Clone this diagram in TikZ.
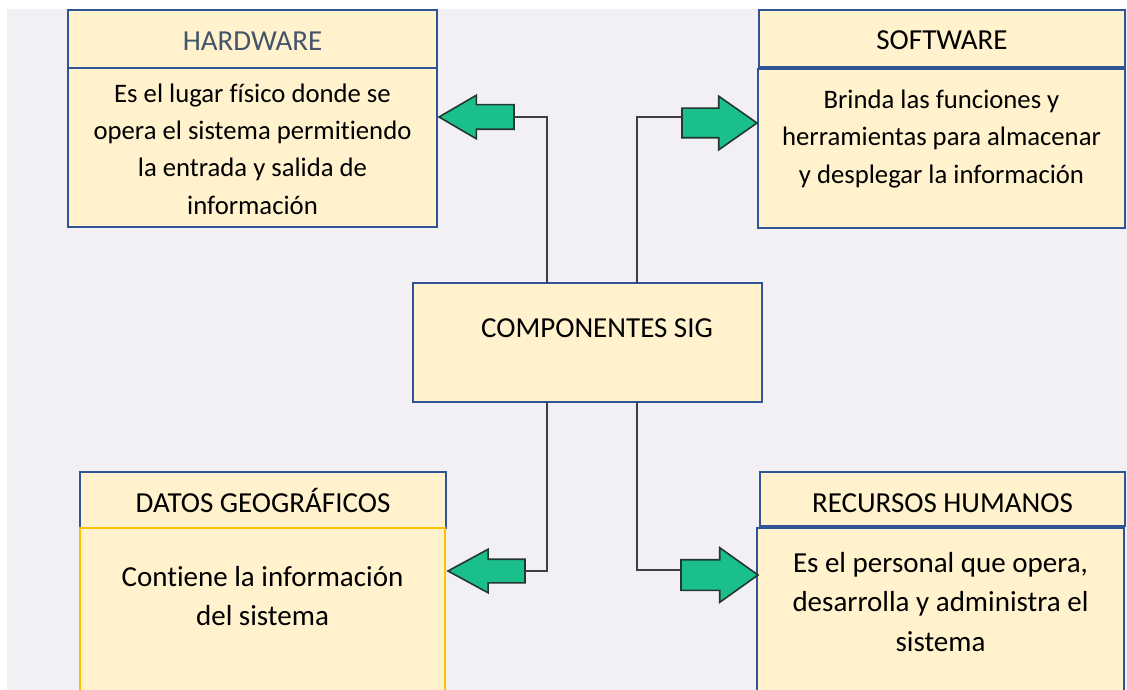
\documentclass[tikz,border=0pt]{standalone}
\usepackage{fontspec}
\setmainfont{Carlito}[Ligatures={NoCommon}]
\usetikzlibrary{shapes.arrows,calc}
\definecolor{bgc}{RGB}{243,240,245}
\definecolor{boxfill}{RGB}{255,242,204}
\definecolor{boxline}{RGB}{47,85,151}
\definecolor{goldline}{RGB}{255,192,0}
\definecolor{arrowfill}{RGB}{26,191,140}
\definecolor{arrowline}{RGB}{35,55,45}
\definecolor{connc}{RGB}{64,64,64}
\definecolor{hwtext}{RGB}{68,84,106}
\tikzset{
  box/.style={draw=boxline, fill=boxfill, line width=2.5pt, rectangle, anchor=north west, inner sep=0pt, outer sep=0pt, font=\fontsize{29}{39}\selectfont},
  bigtxt/.style={align=center, inner sep=0pt, font=\fontsize{29}{39.5}\selectfont},
  smalltxt/.style={align=center, inner sep=0pt, font=\fontsize{26.7}{37.3}\selectfont},
  conn/.style={draw=connc, line width=2pt},
  garrow/.style={single arrow, draw=arrowline, fill=arrowfill, line width=1.6pt, inner xsep=0pt, outer sep=0pt, anchor=tip},
}
\begin{document}
\begin{tikzpicture}[x=1pt, y=-1pt]
\clip (0,0) rectangle (1127,690);
\fill[white] (0,0) rectangle (1127,690);
\fill[bgc] (7,9) rectangle (1127,690);

% HARDWARE
\node[box, minimum width=369pt, minimum height=58pt, text=hwtext, text height=22.7pt, text depth=0pt] (hwh) at (68,10) {HARDWARE};
\node[box, minimum width=369pt, minimum height=159pt] (hwb) at (68,68) {};
\node[smalltxt] (hwt) at (252.5,149) {Es el lugar físico donde se\\opera el sistema permitiendo\\la entrada y salida de\\información};

% SOFTWARE
\node[box, minimum width=366pt, minimum height=57pt, text height=22.7pt, text depth=0pt] (swh) at (759,10) {SOFTWARE};
\node[box, minimum width=367pt, minimum height=159pt] (swb) at (758,69) {};
\node[smalltxt] (swt) at (941.5,139) {Brinda las funciones y\\herramientas para almacenar\\y desplegar la información};

% CENTER
\node[box, minimum width=349pt, minimum height=119pt] (comp) at (413,283) {};
\node[bigtxt] (compt) at (597,328) {COMPONENTES SIG};

% DATOS
\node[box, minimum width=366pt, minimum height=56pt] (dgh) at (80,472) {DATOS GEOGRÁFICOS};
\node[box, draw=goldline, minimum width=365pt, minimum height=180pt] (dgb) at (80,528) {};
\node[bigtxt] (dgt) at (262.5,596) {Contiene la información\\del sistema};

% RECURSOS
\node[box, minimum width=365pt, minimum height=54pt, text height=26.7pt, text depth=0pt] (rhh) at (760,472) {RECURSOS HUMANOS};
\node[box, minimum width=367pt, minimum height=180pt] (rhb) at (757,528) {};
\node[bigtxt] (rht) at (940.5,602) {Es el personal que opera,\\desarrolla y administra el\\sistema};

% arrows
\node[garrow, shape border rotate=180, minimum height=75pt, inner ysep=11.5pt, single arrow head extend=9.5pt, single arrow tip angle=60.5] (a1) at (439,117) {};
\node[garrow, minimum height=75pt, inner ysep=14pt, single arrow head extend=12pt, single arrow tip angle=70] (a2) at (757,123) {};
\node[garrow, shape border rotate=180, minimum height=77pt, inner ysep=11pt, single arrow head extend=10pt, single arrow tip angle=57] (a3) at (448,571) {};
\node[garrow, minimum height=77pt, inner ysep=14.5pt, single arrow head extend=12pt, single arrow tip angle=71] (a4) at (758,575) {};

% connectors
\coordinate (xl) at (547,0);
\coordinate (xr) at (637,0);
\draw[conn] (comp.north -| xl) |- (a1.tail);
\draw[conn] (comp.north -| xr) |- ($(a2.tail)+(0,-6)$);
\draw[conn] (comp.south -| xl) |- (a3.tail);
\draw[conn] (comp.south -| xr) |- ($(a4.tail)+(0,-5)$);
\end{tikzpicture}
\end{document}
